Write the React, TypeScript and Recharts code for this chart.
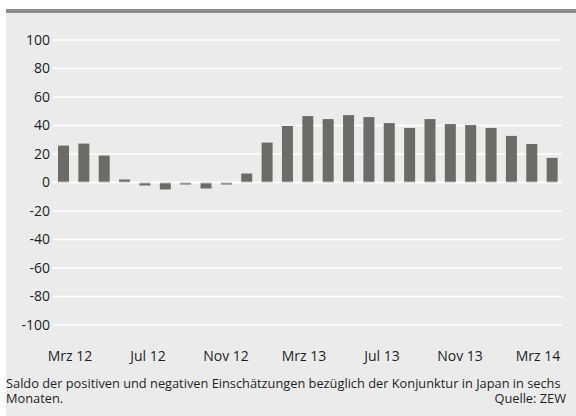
import React from 'react';
import { BarChart, Bar, XAxis, YAxis, CartesianGrid, ReferenceLine } from 'recharts';

// ZEW Konjunkturerwartungen Japan, Saldo in Prozentpunkten
const months = [
  'Mrz 12', 'Apr 12', 'Mai 12', 'Jun 12', 'Jul 12', 'Aug 12', 'Sep 12', 'Okt 12', 'Nov 12', 'Dez 12',
  'Jan 13', 'Feb 13', 'Mrz 13', 'Apr 13', 'Mai 13', 'Jun 13', 'Jul 13', 'Aug 13', 'Sep 13', 'Okt 13',
  'Nov 13', 'Dez 13', 'Jan 14', 'Feb 14', 'Mrz 14',
];
const saldo = [
  25.9, 27.3, 18.9, 2.1, -2.1, -4.9, -1.4, -4.2, -1.4, 6.3,
  28.0, 39.7, 46.6, 44.5, 47.3, 45.9, 41.7, 38.3, 44.5, 41.0,
  40.3, 38.3, 32.7, 27.0, 17.3,
];
const axisLabels = ['Mrz 12', 'Jul 12', 'Nov 12', 'Mrz 13', 'Jul 13', 'Nov 13', 'Mrz 14'];
const yTicks = [-100, -80, -60, -40, -20, 0, 20, 40, 60, 80, 100];

const data = months.map((m, i) => ({ month: m, saldo: saldo[i], slot: i / 4 }));

const FONT = '"Open Sans", Lato, sans-serif';
const TEXT = '#1e1e1e';

export default function App() {
  return (
    <div style={{ position: 'absolute', left: 0, top: 0, width: 576, height: 416, background: '#fff', fontFamily: FONT }}>
      <div
        style={{
          position: 'absolute',
          left: 6,
          top: 9,
          width: 570,
          height: 403,
          background: '#ebebeb',
          borderTop: '4px solid #8c8c8c',
        }}
      >
        <BarChart
          width={570}
          height={360}
          data={data}
          margin={{ top: 27, right: 14, bottom: 0, left: 0 }}
        >
          <CartesianGrid vertical={false} stroke="#ffffff" strokeWidth={1.5} />
          <XAxis xAxisId="cat" dataKey="month" hide height={0} />
          {/* month labels every four months, spread evenly under the plot */}
          <XAxis
            xAxisId="lbl"
            dataKey="slot"
            type="number"
            domain={[0, 6]}
            ticks={[0, 1, 2, 3, 4, 5, 6]}
            tickFormatter={(v: number) => axisLabels[v]}
            padding={{ left: 17, right: 24 }}
            axisLine={false}
            tickLine={false}
            tickMargin={20}
            height={48}
            tick={{ fill: TEXT, fontSize: 14, fontFamily: FONT }}
          />
          <YAxis
            domain={[-100, 100]}
            ticks={yTicks}
            interval={0}
            axisLine={false}
            tickLine={false}
            tickSize={0}
            tickMargin={3}
            width={47}
            tick={{ fill: TEXT, fontSize: 14, fontFamily: FONT }}
          />
          <Bar xAxisId="cat" dataKey="saldo" fill="#6b6b69" barSize={11} isAnimationActive={false} />
          <ReferenceLine xAxisId="cat" y={0} stroke="#ffffff" strokeOpacity={0.55} strokeWidth={2} />
        </BarChart>
        <div style={{ position: 'absolute', left: 0, top: 363, width: 560, fontSize: 12.8, lineHeight: '15px', color: TEXT }}>
          <div style={{ whiteSpace: 'nowrap' }}>
            Saldo der positiven und negativen Einschätzungen bezüglich der Konjunktur in Japan in sechs
          </div>
          <div style={{ display: 'flex', justifyContent: 'space-between' }}>
            <span>Monaten.</span>
            <span>Quelle: ZEW</span>
          </div>
        </div>
      </div>
    </div>
  );
}
